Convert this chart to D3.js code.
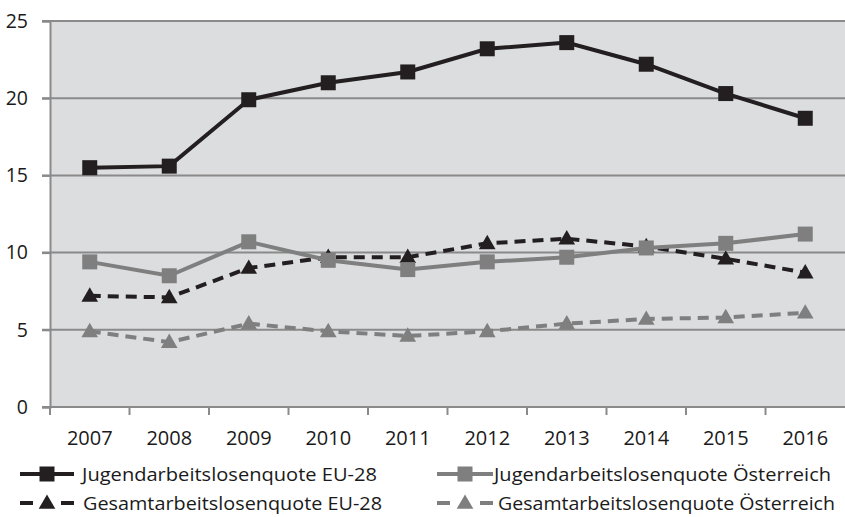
<!DOCTYPE html>
<html>
<head>
<meta charset="utf-8">
<script src="https://cdn.jsdelivr.net/npm/d3@7"></script>
<style>
  body { margin: 0; background: #fff; }
  text { font-family: "Open Sans", sans-serif; fill: #1a1a1a; }
</style>
</head>
<body>
<script>
// Years on the x axis
var years = ["2007", "2008", "2009", "2010", "2011", "2012", "2013", "2014", "2015", "2016"];
var yTicks = [0, 5, 10, 15, 20, 25];

// Series values (percent)
var jugendEU = [15.5, 15.6, 19.9, 21.0, 21.7, 23.2, 23.6, 22.2, 20.3, 18.7];
var jugendAT = [9.4, 8.5, 10.7, 9.5, 8.9, 9.4, 9.7, 10.3, 10.6, 11.2];
var gesamtEU = [7.2, 7.1, 9.0, 9.7, 9.7, 10.6, 10.9, 10.4, 9.6, 8.7];
var gesamtAT = [4.9, 4.2, 5.4, 4.9, 4.6, 4.9, 5.4, 5.7, 5.8, 6.1];

var seriesNames = ["Jugendarbeitslosenquote EU-28", "Jugendarbeitslosenquote Österreich",
	"Gesamtarbeitslosenquote EU-28", "Gesamtarbeitslosenquote Österreich"];

var black = "#231f20", grey = "#7f7f7f";
var series = [
	{ name: seriesNames[0], values: jugendEU, color: black, dash: null, marker: "square" },
	{ name: seriesNames[1], values: jugendAT, color: grey, dash: null, marker: "square" },
	{ name: seriesNames[2], values: gesamtEU, color: black, dash: "11,7", marker: "triangle" },
	{ name: seriesNames[3], values: gesamtAT, color: grey, dash: "11,7", marker: "triangle" }
];

var width = 845, height = 517;
var margin = { left: 50, right: 0, top: 21, bottom: 110 };

var svg = d3.select("body").append("svg")
	.attr("width", width)
	.attr("height", height);

var x = d3.scaleBand()
	.domain(years)
	.range([margin.left, width - margin.right]);

var y = d3.scaleLinear()
	.domain([0, 25])
	.range([height - margin.bottom, margin.top]);

// Plot background
svg.append("rect")
	.attr("x", margin.left)
	.attr("y", y(25))
	.attr("width", x.range()[1] - margin.left)
	.attr("height", y(0) - y(25))
	.attr("fill", "#dcdddf");

// Horizontal grid lines
svg.append("g")
	.selectAll("line")
	.data(yTicks.filter(function(d) { return d > 0; }))
	.enter().append("line")
		.attr("x1", margin.left - 8)
		.attr("x2", x.range()[1])
		.attr("y1", function(d) { return y(d); })
		.attr("y2", function(d) { return y(d); })
		.attr("stroke", "#8a8a8a")
		.attr("stroke-width", 2);

// Y axis
var yAxis = svg.append("g")
	.attr("transform", "translate(" + margin.left + ",0)")
	.call(d3.axisLeft(y).tickValues(yTicks).tickSize(8).tickPadding(14));
yAxis.select(".domain").attr("stroke", "#8a8a8a").attr("stroke-width", 2);
yAxis.selectAll(".tick line").attr("stroke", "#8a8a8a").attr("stroke-width", 2);
yAxis.selectAll("text")
	.attr("font-size", 19.5)
	.attr("font-family", "Open Sans, sans-serif")
	.attr("fill", "#1a1a1a");

// X axis with ticks between categories
var xAxisG = svg.append("g")
	.attr("transform", "translate(0," + y(0) + ")");
xAxisG.append("line")
	.attr("x1", margin.left - 8)
	.attr("x2", x.range()[1])
	.attr("stroke", "#8a8a8a")
	.attr("stroke-width", 2);
xAxisG.selectAll(".sep")
	.data(years)
	.enter().append("line")
		.attr("x1", function(d) { return x(d); })
		.attr("x2", function(d) { return x(d); })
		.attr("y1", 0)
		.attr("y2", 8)
		.attr("stroke", "#8a8a8a")
		.attr("stroke-width", 2);
xAxisG.selectAll(".lbl")
	.data(years)
	.enter().append("text")
		.attr("x", function(d) { return x(d) + x.bandwidth() / 2; })
		.attr("y", 38)
		.attr("text-anchor", "middle")
		.attr("font-size", 20)
		.text(function(d) { return d; });

var cx = function(d, i) { return x(years[i]) + x.bandwidth() / 2; };

function drawMarker(g, type, color, px, py) {
	if (type === "square") {
		g.append("rect")
			.attr("x", px - 7.5).attr("y", py - 7.5)
			.attr("width", 15).attr("height", 15)
			.attr("fill", color);
	} else {
		g.append("path")
			.attr("d", d3.symbol().type(d3.symbolTriangle).size(120)())
			.attr("transform", "translate(" + px + "," + (py + 1) + ")")
			.attr("fill", color);
	}
}

var line = d3.line()
	.x(cx)
	.y(function(d) { return y(d); });

// Draw back to front so EU youth sits on top
[3, 2, 1, 0].forEach(function(k) {
	var s = series[k];
	var g = svg.append("g");
	g.append("path")
		.attr("d", line(s.values))
		.attr("fill", "none")
		.attr("stroke", s.color)
		.attr("stroke-width", 4)
		.attr("stroke-dasharray", s.dash);
	s.values.forEach(function(v, i) {
		drawMarker(g, s.marker, s.color, cx(v, i), y(v));
	});
});

// Legend: swatch start, marker centre, text start and text width
var legendPos = [
	{ x: 20, y: 474, m: 47, tx: 82, tw: 295 },
	{ x: 437, y: 474, m: 465, tx: 494, tw: 337 },
	{ x: 20, y: 503, m: 47, tx: 83, tw: 299 },
	{ x: 437, y: 503, m: 465, tx: 498, tw: 337 }
];
series.forEach(function(s, k) {
	var p = legendPos[k];
	var g = svg.append("g").attr("transform", "translate(0," + p.y + ")");
	var len = 2 * (p.m - p.x);
	g.append("line")
		.attr("x1", p.x).attr("x2", p.x + len)
		.attr("stroke", s.color)
		.attr("stroke-width", 4)
		.attr("stroke-dasharray", s.dash ? [13, len - 26, 13].join(",") : null);
	drawMarker(g, s.marker, s.color, p.m, 0);
	g.append("text")
		.attr("x", p.tx)
		.attr("dy", "0.35em")
		.attr("font-size", 19)
		.attr("textLength", p.tw)
		.attr("lengthAdjust", "spacingAndGlyphs")
		.text(s.name);
});
</script>
</body>
</html>
